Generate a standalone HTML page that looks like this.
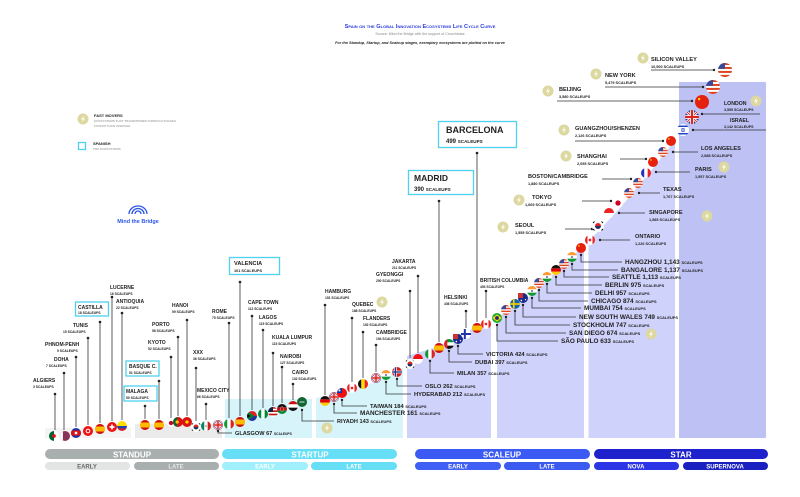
<!DOCTYPE html>
<html><head><meta charset="utf-8"><style>
html,body{margin:0;padding:0;background:#fff}
svg{display:block}
text{font-family:"Liberation Sans",sans-serif;font-weight:bold;fill:#222}
.n{font-size:5px}.s{font-size:3.3px}
.N{font-size:6.4px}.S{font-size:3.9px}
.l{stroke:#333;stroke-width:0.8;fill:none}
.bar{font-size:8px;fill:#fff;text-anchor:middle}
.sb{font-size:6px;text-anchor:middle;fill:#fff}
</style></head><body>
<svg width="800" height="497" viewBox="0 0 800 497" xmlns="http://www.w3.org/2000/svg">
<defs>
<clipPath id="c"><circle cx="0" cy="0" r="6"/></clipPath>
<symbol id="us" viewBox="-6 -6 12 12"><g clip-path="url(#c)"><rect x="-6" y="-6" width="12" height="12" fill="#fff"/><rect x="-6" y="-6" width="12" height="1.7" fill="#d42"/><rect x="-6" y="-2.6" width="12" height="1.7" fill="#d42"/><rect x="-6" y="0.8" width="12" height="1.7" fill="#d42"/><rect x="-6" y="4.2" width="12" height="1.8" fill="#d42"/><rect x="-6" y="-6" width="6" height="5" fill="#3a4a9a"/></g></symbol>
<symbol id="cn" viewBox="-6 -6 12 12"><circle r="6" fill="#e5200f"/><circle cx="-2.5" cy="-2.5" r="1" fill="#fd0"/></symbol>
<symbol id="es" viewBox="-6 -6 12 12"><g clip-path="url(#c)"><rect x="-6" y="-6" width="12" height="12" fill="#d72"/><rect x="-6" y="-6" width="12" height="3" fill="#c11"/><rect x="-6" y="3" width="12" height="3" fill="#c11"/><rect x="-6" y="-3" width="12" height="6" fill="#fb0"/></g></symbol>
<symbol id="uk" viewBox="-6 -6 12 12"><g clip-path="url(#c)"><rect x="-6" y="-6" width="12" height="12" fill="#2a3d8f"/><path d="M-6-6L6 6M6-6L-6 6" stroke="#fff" stroke-width="2.4"/><path d="M-6-6L6 6M6-6L-6 6" stroke="#d22" stroke-width="0.8"/><rect x="-6" y="-1.6" width="12" height="3.2" fill="#fff"/><rect x="-1.6" y="-6" width="3.2" height="12" fill="#fff"/><rect x="-6" y="-0.9" width="12" height="1.8" fill="#d22"/><rect x="-0.9" y="-6" width="1.8" height="12" fill="#d22"/></g></symbol>
<symbol id="in" viewBox="-6 -6 12 12"><g clip-path="url(#c)"><rect x="-6" y="-6" width="12" height="4" fill="#f93"/><rect x="-6" y="-2" width="12" height="4" fill="#fff"/><rect x="-6" y="2" width="12" height="4" fill="#193"/><circle r="1" fill="#228"/></g></symbol>
<symbol id="de" viewBox="-6 -6 12 12"><g clip-path="url(#c)"><rect x="-6" y="-6" width="12" height="4" fill="#111"/><rect x="-6" y="-2" width="12" height="4" fill="#d00"/><rect x="-6" y="2" width="12" height="4" fill="#fc0"/></g></symbol>
<symbol id="ca" viewBox="-6 -6 12 12"><g clip-path="url(#c)"><rect x="-6" y="-6" width="12" height="12" fill="#fff"/><rect x="-6" y="-6" width="3" height="12" fill="#e22"/><rect x="3" y="-6" width="3" height="12" fill="#e22"/><circle r="1.6" fill="#e22"/></g></symbol>
<symbol id="fr" viewBox="-6 -6 12 12"><g clip-path="url(#c)"><rect x="-6" y="-6" width="4" height="12" fill="#23c"/><rect x="-2" y="-6" width="4" height="12" fill="#fff"/><rect x="2" y="-6" width="4" height="12" fill="#e22"/></g></symbol>
<symbol id="it" viewBox="-6 -6 12 12"><g clip-path="url(#c)"><rect x="-6" y="-6" width="4" height="12" fill="#193"/><rect x="-2" y="-6" width="4" height="12" fill="#fff"/><rect x="2" y="-6" width="4" height="12" fill="#d22"/></g></symbol>
<symbol id="mx" viewBox="-6 -6 12 12"><g clip-path="url(#c)"><rect x="-6" y="-6" width="4" height="12" fill="#086"/><rect x="-2" y="-6" width="4" height="12" fill="#fff"/><rect x="2" y="-6" width="4" height="12" fill="#c22"/><circle r="0.9" fill="#864"/></g></symbol>
<symbol id="kr" viewBox="-6 -6 12 12"><circle r="6" fill="#fff"/><path d="M-3 0a3 3 0 0 1 6 0z" fill="#d22"/><path d="M-3 0a3 3 0 0 0 6 0z" fill="#236"/><path d="M-5-3l1.5-1.5M3.5-4.5L5-3M-5 3l1.5 1.5M5 3L3.5 4.5" stroke="#111" stroke-width="1"/></symbol>
<symbol id="jp" viewBox="-6 -6 12 12"><circle r="6" fill="#fff"/><circle r="3.2" fill="#c02"/></symbol>
<symbol id="sg" viewBox="-6 -6 12 12"><g clip-path="url(#c)"><rect x="-6" y="-6" width="12" height="6" fill="#e22"/><rect x="-6" y="0" width="12" height="6" fill="#fff"/></g></symbol>
<symbol id="id" viewBox="-6 -6 12 12"><g clip-path="url(#c)"><rect x="-6" y="-6" width="12" height="6" fill="#e11"/><rect x="-6" y="0" width="12" height="6" fill="#fff"/></g></symbol>
<symbol id="se" viewBox="-6 -6 12 12"><g clip-path="url(#c)"><rect x="-6" y="-6" width="12" height="12" fill="#16a"/><rect x="-6" y="-1" width="12" height="2" fill="#fc0"/><rect x="-2.5" y="-6" width="2" height="12" fill="#fc0"/></g></symbol>
<symbol id="au" viewBox="-6 -6 12 12"><circle r="6" fill="#1a2a8a"/><rect x="-6" y="-6" width="6" height="6" fill="#c33"/><circle cx="3" cy="2" r="0.8" fill="#fff"/><circle cx="-2" cy="3" r="1" fill="#fff"/></symbol>
<symbol id="br" viewBox="-6 -6 12 12"><circle r="6" fill="#2a3"/><path d="M-5.5 0L0-4.2 5.5 0 0 4.2z" fill="#fd0"/><circle r="2.3" fill="#228"/></symbol>
<symbol id="il" viewBox="-6 -6 12 12"><g clip-path="url(#c)"><rect x="-6" y="-6" width="12" height="12" fill="#fff"/><rect x="-6" y="-4.5" width="12" height="1.5" fill="#24c"/><rect x="-6" y="3" width="12" height="1.5" fill="#24c"/><path d="M0-2L1.8 1.2H-1.8zM0 2L1.8-1.2H-1.8z" fill="none" stroke="#24c" stroke-width="0.5"/></g></symbol>
<symbol id="ae" viewBox="-6 -6 12 12"><g clip-path="url(#c)"><rect x="-6" y="-6" width="12" height="4" fill="#093"/><rect x="-6" y="-2" width="12" height="4" fill="#fff"/><rect x="-6" y="2" width="12" height="4" fill="#111"/><rect x="-6" y="-6" width="4" height="12" fill="#d22"/></g></symbol>
<symbol id="fi" viewBox="-6 -6 12 12"><circle r="6" fill="#fff"/><rect x="-6" y="-1.2" width="12" height="2.4" fill="#23a"/><rect x="-2.6" y="-6" width="2.4" height="12" fill="#23a"/></symbol>
<symbol id="no" viewBox="-6 -6 12 12"><g clip-path="url(#c)"><rect x="-6" y="-6" width="12" height="12" fill="#c22"/><rect x="-6" y="-1.6" width="12" height="3.2" fill="#fff"/><rect x="-3.6" y="-6" width="3.2" height="12" fill="#fff"/><rect x="-6" y="-0.8" width="12" height="1.6" fill="#238"/><rect x="-2.8" y="-6" width="1.6" height="12" fill="#238"/></g></symbol>
<symbol id="ch" viewBox="-6 -6 12 12"><circle r="6" fill="#e11"/><rect x="-3" y="-1" width="6" height="2" fill="#fff"/><rect x="-1" y="-3" width="2" height="6" fill="#fff"/></symbol>
<symbol id="co" viewBox="-6 -6 12 12"><g clip-path="url(#c)"><rect x="-6" y="-6" width="12" height="6" fill="#fd0"/><rect x="-6" y="0" width="12" height="3" fill="#24a"/><rect x="-6" y="3" width="12" height="3" fill="#d22"/></g></symbol>
<symbol id="eg" viewBox="-6 -6 12 12"><g clip-path="url(#c)"><rect x="-6" y="-6" width="12" height="4" fill="#c11"/><rect x="-6" y="-2" width="12" height="4" fill="#fff"/><rect x="-6" y="2" width="12" height="4" fill="#111"/></g></symbol>
<symbol id="ng" viewBox="-6 -6 12 12"><g clip-path="url(#c)"><rect x="-6" y="-6" width="4" height="12" fill="#083"/><rect x="-2" y="-6" width="4" height="12" fill="#fff"/><rect x="2" y="-6" width="4" height="12" fill="#083"/></g></symbol>
<symbol id="ke" viewBox="-6 -6 12 12"><g clip-path="url(#c)"><rect x="-6" y="-6" width="12" height="4" fill="#111"/><rect x="-6" y="-2" width="12" height="4" fill="#b11"/><rect x="-6" y="2" width="12" height="4" fill="#083"/><ellipse rx="1.5" ry="3" fill="#b11" stroke="#fff" stroke-width="0.4"/></g></symbol>
<symbol id="za" viewBox="-6 -6 12 12"><g clip-path="url(#c)"><rect x="-6" y="-6" width="12" height="6" fill="#d22"/><rect x="-6" y="0" width="12" height="6" fill="#239"/><path d="M-6-4L0 0-6 4" fill="none" stroke="#083" stroke-width="3"/><path d="M-6-3L-1.5 0-6 3z" fill="#111"/></g></symbol>
<symbol id="my" viewBox="-6 -6 12 12"><g clip-path="url(#c)"><rect x="-6" y="-6" width="12" height="12" fill="#fff"/><rect x="-6" y="-6" width="12" height="2" fill="#c11"/><rect x="-6" y="-2" width="12" height="2" fill="#c11"/><rect x="-6" y="2" width="12" height="2" fill="#c11"/><rect x="-6" y="-6" width="6" height="6" fill="#124"/></g></symbol>
<symbol id="pt" viewBox="-6 -6 12 12"><g clip-path="url(#c)"><rect x="-6" y="-6" width="12" height="12" fill="#d11"/><rect x="-6" y="-6" width="5" height="12" fill="#063"/><circle cx="-1" r="2" fill="#fc0"/></g></symbol>
<symbol id="vn" viewBox="-6 -6 12 12"><circle r="6" fill="#d11"/><circle r="2" fill="#fd0"/></symbol>
<symbol id="tn" viewBox="-6 -6 12 12"><circle r="6" fill="#e11"/><circle r="2.8" fill="#fff"/><circle r="1.6" fill="#e11"/></symbol>
<symbol id="kh" viewBox="-6 -6 12 12"><g clip-path="url(#c)"><rect x="-6" y="-6" width="12" height="12" fill="#23a"/><rect x="-6" y="-3" width="12" height="6" fill="#d11"/><rect x="-1.5" y="-1.5" width="3" height="3" fill="#fff"/></g></symbol>
<symbol id="qa" viewBox="-6 -6 12 12"><g clip-path="url(#c)"><rect x="-6" y="-6" width="12" height="12" fill="#835"/><rect x="-6" y="-6" width="3.5" height="12" fill="#fff"/></g></symbol>
<symbol id="dz" viewBox="-6 -6 12 12"><g clip-path="url(#c)"><rect x="-6" y="-6" width="6" height="12" fill="#063"/><rect x="0" y="-6" width="6" height="12" fill="#fff"/><circle r="2.2" fill="#d11"/></g></symbol>
<symbol id="be" viewBox="-6 -6 12 12"><g clip-path="url(#c)"><rect x="-6" y="-6" width="4" height="12" fill="#111"/><rect x="-2" y="-6" width="4" height="12" fill="#fd0"/><rect x="2" y="-6" width="4" height="12" fill="#e22"/></g></symbol>
<symbol id="sa" viewBox="-6 -6 12 12"><circle r="6" fill="#163"/><rect x="-3" y="-0.5" width="6" height="1" fill="#fff"/></symbol>
<symbol id="tw" viewBox="-6 -6 12 12"><g clip-path="url(#c)"><rect x="-6" y="-6" width="12" height="12" fill="#e11"/><rect x="-6" y="-6" width="6" height="6" fill="#13a"/><circle cx="-3" cy="-3" r="1.2" fill="#fff"/></g></symbol>
<symbol id="fm" viewBox="-6 -6 12 12"><circle r="5.5" fill="#dcd8a0"/><path d="M1-3.5L-2 0.5H0L-1 3.5 2-0.5H0z" fill="#fff"/></symbol>
</defs>

<!-- background panels -->
<rect x="45" y="428" width="86" height="10" fill="#f4f4f4"/>
<rect x="135" y="424" width="87" height="14" fill="#ebebeb"/>
<rect x="225" y="399" width="87" height="39" fill="#d7f4fb"/>
<polygon points="316,438 316,398 345,392 375,382 403,368 403,438" fill="#d7f4fb"/>
<polygon points="407,438 407,356 440,346 470,330 497,318 530,296 560,268 590,240 620,208 650,172 675,140 675,438" fill="#cfd2fa"/>
<rect x="491" y="300" width="6" height="140" fill="#fff"/>
<rect x="584" y="220" width="4.5" height="220" fill="#fff"/>
<rect x="679" y="82" width="87" height="356" fill="#bdc1f3"/>

<!-- header -->
<text x="420" y="28" text-anchor="middle" style="font-size:5.6px;fill:#2b3be0;font-variant:small-caps">Spain on the Global Innovation Ecosystems Life Cycle Curve</text>
<text x="420" y="35" text-anchor="middle" style="font-size:3.6px;fill:#888;font-weight:normal">Source: Mind the Bridge with the support of Crunchbase</text>
<text x="420" y="44" text-anchor="middle" style="font-size:3.8px;font-style:italic">For the Standup, Startup, and Scaleup stages, exemplary ecosystems are plotted on the curve</text>

<!-- legend -->
<use href="#fm" x="77" y="113" width="12" height="12"/>
<text x="94" y="117" style="font-size:4px">FAST MOVERS</text>
<text x="94" y="122" style="font-size:3px;fill:#aaa">ECOSYSTEMS THAT TRANSITIONED THROUGH PHASES</text>
<text x="94" y="127" style="font-size:3px;fill:#aaa">FASTER THAN AVERAGE</text>
<rect x="78.5" y="142.5" width="7" height="7" fill="none" stroke="#4fd1ef" stroke-width="1.3"/>
<text x="93" y="145" style="font-size:4px">SPANISH</text>
<text x="93" y="150" style="font-size:3px;fill:#aaa">TOP ECOSYSTEMS</text>
<path d="M129 214a9 8 0 0 1 18 0M132 214a6 5.5 0 0 1 12 0M135 214a3 3 0 0 1 6 0" fill="none" stroke="#2b55e8" stroke-width="1.3"/>
<text x="138" y="223" text-anchor="middle" style="font-size:5.5px;fill:#2b55e8">Mind the Bridge</text>

<!-- vertical label items -->
<g class="l">
<line x1="55" y1="394" x2="55" y2="430"/><line x1="64" y1="373" x2="64" y2="430"/><line x1="76" y1="357" x2="76" y2="427"/><line x1="88" y1="338" x2="88" y2="425"/><line x1="100" y1="322" x2="100" y2="423"/><line x1="112" y1="297" x2="112" y2="421"/><line x1="122" y1="313" x2="122" y2="420"/>
<line x1="145" y1="406" x2="145" y2="419"/><line x1="159" y1="381" x2="159" y2="419"/><line x1="171" y1="357" x2="171" y2="418"/><line x1="178" y1="337" x2="178" y2="416"/><line x1="187" y1="320" x2="187" y2="416"/><line x1="196" y1="368" x2="196" y2="421"/><line x1="206" y1="404" x2="206" y2="420"/>
<line x1="229" y1="323" x2="229" y2="418"/><line x1="240" y1="282" x2="240" y2="416"/><line x1="252" y1="316" x2="252" y2="410"/><line x1="263" y1="330" x2="263" y2="408"/><line x1="273" y1="353" x2="273" y2="406"/><line x1="282" y1="367" x2="282" y2="403"/><line x1="293" y1="384" x2="293" y2="400"/>
<line x1="325" y1="305" x2="325" y2="395"/><line x1="352" y1="318" x2="352" y2="382"/><line x1="363" y1="332" x2="363" y2="378"/><line x1="376" y1="345" x2="376" y2="372"/><line x1="410" y1="291" x2="410" y2="358"/><line x1="418" y1="276" x2="418" y2="353"/><line x1="439" y1="201" x2="439" y2="342"/><line x1="466" y1="311" x2="466" y2="328"/><line x1="477" y1="153" x2="477" y2="322"/><line x1="486" y1="291" x2="486" y2="318"/>
<polyline points="218,431 218,433 232,433"/><polyline points="302,410 302,421 334,421"/><polyline points="334,404 334,413 357,413"/><polyline points="342,400 342,406 367,406"/><polyline points="386,382 386,394 411,394"/><polyline points="397,379 397,386 422,386"/><polyline points="430,361 430,373 454,373"/><polyline points="449,351 449,362 472,362"/><polyline points="458,346 458,354 483,354"/>
<polyline points="497,325 497,341 558,341"/><polyline points="506,317 506,333 566,333"/><polyline points="515,311 515,325 570,325"/><polyline points="523,305 523,317 576,317"/><polyline points="532,298 532,308 581,308"/><polyline points="539,290 539,301 588,301"/><polyline points="547,284 547,293 592,293"/><polyline points="556,277 556,285 602,285"/><polyline points="564,271 564,277 609,277"/><polyline points="572,264 572,270 618,270"/><polyline points="581,255 581,262 622,262"/>
<line x1="600" y1="240" x2="630" y2="240"/><line x1="565" y1="229" x2="592" y2="229"/><line x1="619" y1="213" x2="645" y2="213"/><line x1="582" y1="201" x2="611" y2="201"/><line x1="639" y1="193" x2="660" y2="193"/><line x1="602" y1="179" x2="631" y2="179"/><line x1="656" y1="172" x2="690" y2="172"/><line x1="620" y1="159" x2="646" y2="159"/><line x1="673" y1="152" x2="698" y2="152"/><line x1="575" y1="141" x2="663" y2="141"/><line x1="693" y1="130" x2="766" y2="130"/><line x1="702" y1="114" x2="760" y2="114"/><line x1="557" y1="101" x2="692" y2="101"/><line x1="605" y1="87" x2="703" y2="87"/><line x1="651" y1="70" x2="714" y2="70"/>
</g>
<g fill="#222">
<circle cx="55" cy="394" r="1.3"/><circle cx="64" cy="373" r="1.3"/><circle cx="76" cy="357" r="1.3"/><circle cx="88" cy="338" r="1.3"/><circle cx="100" cy="322" r="1.3"/><circle cx="112" cy="297" r="1.3"/><circle cx="122" cy="313" r="1.3"/>
<circle cx="145" cy="406" r="1.3"/><circle cx="159" cy="381" r="1.3"/><circle cx="171" cy="357" r="1.3"/><circle cx="178" cy="337" r="1.3"/><circle cx="187" cy="320" r="1.3"/><circle cx="196" cy="368" r="1.3"/><circle cx="206" cy="404" r="1.3"/>
<circle cx="229" cy="323" r="1.3"/><circle cx="240" cy="282" r="1.3"/><circle cx="252" cy="316" r="1.3"/><circle cx="263" cy="330" r="1.3"/><circle cx="273" cy="353" r="1.3"/><circle cx="282" cy="367" r="1.3"/><circle cx="293" cy="384" r="1.3"/>
<circle cx="325" cy="305" r="1.3"/><circle cx="352" cy="318" r="1.3"/><circle cx="363" cy="332" r="1.3"/><circle cx="376" cy="345" r="1.3"/><circle cx="410" cy="291" r="1.3"/><circle cx="418" cy="276" r="1.3"/><circle cx="439" cy="201" r="1.3"/><circle cx="466" cy="311" r="1.3"/><circle cx="477" cy="153" r="1.3"/><circle cx="486" cy="291" r="1.3"/>
<circle cx="218" cy="431" r="1.2"/><circle cx="302" cy="410" r="1.2"/><circle cx="334" cy="404" r="1.2"/><circle cx="342" cy="400" r="1.2"/><circle cx="386" cy="382" r="1.2"/><circle cx="397" cy="379" r="1.2"/><circle cx="430" cy="361" r="1.2"/><circle cx="449" cy="351" r="1.2"/><circle cx="458" cy="346" r="1.2"/>
<circle cx="497" cy="325" r="1.2"/><circle cx="506" cy="317" r="1.2"/><circle cx="515" cy="311" r="1.2"/><circle cx="523" cy="305" r="1.2"/><circle cx="532" cy="298" r="1.2"/><circle cx="539" cy="290" r="1.2"/><circle cx="547" cy="284" r="1.2"/><circle cx="556" cy="277" r="1.2"/><circle cx="564" cy="271" r="1.2"/><circle cx="572" cy="264" r="1.2"/><circle cx="581" cy="255" r="1.2"/>
<circle cx="600" cy="240" r="1.2"/><circle cx="592" cy="229" r="1.2"/><circle cx="619" cy="213" r="1.2"/><circle cx="611" cy="201" r="1.2"/><circle cx="639" cy="193" r="1.2"/><circle cx="631" cy="179" r="1.2"/><circle cx="656" cy="172" r="1.2"/><circle cx="646" cy="159" r="1.2"/><circle cx="673" cy="152" r="1.2"/><circle cx="663" cy="141" r="1.2"/><circle cx="693" cy="130" r="1.2"/><circle cx="702" cy="114" r="1.2"/><circle cx="692" cy="101" r="1.2"/><circle cx="703" cy="87" r="1.2"/><circle cx="714" cy="70" r="1.2"/>
</g>

<!-- small labels -->
<text x="33" y="382" class="n">ALGIERS</text><text x="33" y="388" class="s">3 SCALEUPS</text>
<text x="54" y="361" class="n">DOHA</text><text x="46" y="367" class="s">7 SCALEUPS</text>
<text x="45" y="346" class="n">PHNOM-PENH</text><text x="57" y="352" class="s">9 SCALEUPS</text>
<text x="73" y="327" class="n">TUNIS</text><text x="63" y="333" class="s">15 SCALEUPS</text>
<rect x="75.5" y="302" width="33" height="14" fill="#fff" stroke="#4fd1ef" stroke-width="1.3"/>
<text x="78" y="309" class="n">CASTILLA</text><text x="78" y="314" class="s">18 SCALEUPS</text>
<text x="110" y="289" class="n">LUCERNE</text><text x="110" y="295" class="s">16 SCALEUPS</text>
<text x="116" y="303" class="n">ANTIOQUIA</text><text x="116" y="309" class="s">22 SCALEUPS</text>
<rect x="124" y="386" width="33" height="15" fill="#fff" stroke="#4fd1ef" stroke-width="1.3"/>
<text x="126" y="393" class="n">MALAGA</text><text x="126" y="399" class="s">50 SCALEUPS</text>
<rect x="126" y="361" width="33" height="15" fill="#fff" stroke="#4fd1ef" stroke-width="1.3"/>
<text x="129" y="368" class="n">BASQUE C.</text><text x="129" y="374" class="s">51 SCALEUPS</text>
<text x="148" y="344" class="n">KYOTO</text><text x="148" y="350" class="s">52 SCALEUPS</text>
<text x="152" y="326" class="n">PORTO</text><text x="152" y="332" class="s">58 SCALEUPS</text>
<text x="172" y="307" class="n">HANOI</text><text x="172" y="313" class="s">59 SCALEUPS</text>
<text x="193" y="354" class="n">XXX</text><text x="193" y="360" class="s">36 SCALEUPS</text>
<text x="197" y="392" class="n">MEXICO CITY</text><text x="197" y="398" class="s">66 SCALEUPS</text>
<text x="235" y="435" class="n" style="font-size:5.6px">GLASGOW 67 <tspan class="s">SCALEUPS</tspan></text>
<text x="212" y="313" class="n">ROME</text><text x="212" y="319" class="s">75 SCALEUPS</text>
<rect x="229.5" y="257.5" width="50" height="17" fill="#fff" stroke="#4fd1ef" stroke-width="1.3"/>
<text x="234" y="265" class="n" style="font-size:5.6px">VALENCIA</text><text x="234" y="272" class="s" style="font-size:3.8px">101 SCALEUPS</text>
<text x="248" y="304" class="n">CAPE TOWN</text><text x="248" y="310" class="s">112 SCALEUPS</text>
<text x="259" y="319" class="n">LAGOS</text><text x="259" y="325" class="s">115 SCALEUPS</text>
<text x="272" y="339" class="n">KUALA LUMPUR</text><text x="272" y="345" class="s">115 SCALEUPS</text>
<text x="280" y="358" class="n">NAIROBI</text><text x="280" y="364" class="s">127 SCALEUPS</text>
<text x="292" y="374" class="n">CAIRO</text><text x="292" y="380" class="s">132 SCALEUPS</text>
<text x="337" y="423" class="N" style="font-size:5.6px">RIYADH 143 <tspan class="S">SCALEUPS</tspan></text>
<text x="325" y="293" class="n">HAMBURG</text><text x="325" y="299" class="s">151 SCALEUPS</text>
<text x="360" y="415" class="N">MANCHESTER 161 <tspan class="S">SCALEUPS</tspan></text>
<text x="370" y="408" class="N" style="font-size:5.8px">TAIWAN 184 <tspan class="S">SCALEUPS</tspan></text>
<text x="352" y="306" class="n">QUEBEC</text><text x="352" y="312" class="s">188 SCALEUPS</text>
<text x="363" y="320" class="n">FLANDERS</text><text x="363" y="326" class="s">192 SCALEUPS</text>
<text x="376" y="334" class="n">CAMBRIDGE</text><text x="376" y="340" class="s">194 SCALEUPS</text>
<text x="414" y="396" class="N" style="font-size:5.8px">HYDERABAD 212 <tspan class="S">SCALEUPS</tspan></text>
<text x="425" y="388" class="N" style="font-size:5.8px">OSLO 262 <tspan class="S">SCALEUPS</tspan></text>
<text x="376" y="276" class="n">GYEONGGI</text><text x="376" y="282" class="s">200 SCALEUPS</text>
<text x="392" y="263" class="n">JAKARTA</text><text x="392" y="269" class="s">211 SCALEUPS</text>
<text x="457" y="375" class="N" style="font-size:5.8px">MILAN 357 <tspan class="S">SCALEUPS</tspan></text>
<rect x="408.5" y="170.5" width="65" height="24" fill="#fff" stroke="#4fd1ef" stroke-width="1.3"/>
<text x="414" y="181" style="font-size:8.5px">MADRID</text><text x="414" y="191" style="font-size:6px">390 <tspan style="font-size:4.6px">SCALEUPS</tspan></text>
<text x="475" y="364" class="N" style="font-size:5.8px">DUBAI 397 <tspan class="S">SCALEUPS</tspan></text>
<text x="486" y="356" class="N" style="font-size:5.8px">VICTORIA 424 <tspan class="S">SCALEUPS</tspan></text>
<text x="444" y="299" class="n">HELSINKI</text><text x="444" y="305" class="s">436 SCALEUPS</text>
<rect x="438.5" y="121.5" width="78" height="26" fill="#fff" stroke="#4fd1ef" stroke-width="1.3"/>
<text x="446" y="133" style="font-size:9px">BARCELONA</text><text x="446" y="143" style="font-size:6px">499 <tspan style="font-size:4.6px">SCALEUPS</tspan></text>
<text x="480" y="282" class="n">BRITISH COLUMBIA</text><text x="480" y="288" class="s">493 SCALEUPS</text>

<text x="561" y="343" class="N">SÃO PAULO 633 <tspan class="S">SCALEUPS</tspan></text>
<text x="569" y="335" class="N">SAN DIEGO 674 <tspan class="S">SCALEUPS</tspan></text>
<text x="573" y="327" class="N">STOCKHOLM 747 <tspan class="S">SCALEUPS</tspan></text>
<text x="579" y="319" class="N">NEW SOUTH WALES 749 <tspan class="S">SCALEUPS</tspan></text>
<text x="584" y="310" class="N">MUMBAI 754 <tspan class="S">SCALEUPS</tspan></text>
<text x="591" y="303" class="N">CHICAGO 874 <tspan class="S">SCALEUPS</tspan></text>
<text x="595" y="295" class="N">DELHI 957 <tspan class="S">SCALEUPS</tspan></text>
<text x="605" y="287" class="N">BERLIN 975 <tspan class="S">SCALEUPS</tspan></text>
<text x="612" y="279" class="N">SEATTLE 1,113 <tspan class="S">SCALEUPS</tspan></text>
<text x="621" y="272" class="N">BANGALORE 1,137 <tspan class="S">SCALEUPS</tspan></text>
<text x="625" y="264" class="N">HANGZHOU 1,143 <tspan class="S">SCALEUPS</tspan></text>

<text x="635" y="238" class="N" style="font-size:5.6px">ONTARIO</text><text x="635" y="245" class="s" style="font-size:3.8px">1,226 SCALEUPS</text>
<text x="515" y="227" class="N" style="font-size:5.6px">SEOUL</text><text x="515" y="234" class="s" style="font-size:3.8px">1,555 SCALEUPS</text>
<text x="649" y="214" class="N" style="font-size:5.6px">SINGAPORE</text><text x="649" y="221" class="s" style="font-size:3.8px">1,585 SCALEUPS</text>
<text x="532" y="199" class="N" style="font-size:5.6px">TOKYO</text><text x="525" y="206" class="s" style="font-size:3.8px">1,669 SCALEUPS</text>
<text x="663" y="191" class="N" style="font-size:5.6px">TEXAS</text><text x="663" y="198" class="s" style="font-size:3.8px">1,767 SCALEUPS</text>
<text x="528" y="178" class="N" style="font-size:5.6px">BOSTON/CAMBRIDGE</text><text x="528" y="185" class="s" style="font-size:3.8px">1,880 SCALEUPS</text>
<text x="695" y="171" class="N" style="font-size:5.6px">PARIS</text><text x="695" y="178" class="s" style="font-size:3.8px">1,957 SCALEUPS</text>
<text x="577" y="158" class="N" style="font-size:5.6px">SHANGHAI</text><text x="577" y="165" class="s" style="font-size:3.8px">2,055 SCALEUPS</text>
<text x="701" y="150" class="N" style="font-size:5.6px">LOS ANGELES</text><text x="701" y="157" class="s" style="font-size:3.8px">2,088 SCALEUPS</text>
<text x="575" y="130" class="N" style="font-size:5.6px">GUANGZHOU/SHENZEN</text><text x="575" y="137" class="s" style="font-size:3.8px">2,126 SCALEUPS</text>
<text x="730" y="122" class="N" style="font-size:5.2px">ISRAEL</text><text x="724" y="128" class="s" style="font-size:3.6px">3,142 SCALEUPS</text>
<text x="724" y="105" class="N" style="font-size:5.2px">LONDON</text><text x="724" y="111" class="s" style="font-size:3.6px">3,595 SCALEUPS</text>
<text x="559" y="91" class="N" style="font-size:5.6px">BEIJING</text><text x="559" y="98" class="s" style="font-size:3.8px">3,580 SCALEUPS</text>
<text x="605" y="77" class="N" style="font-size:5.6px">NEW YORK</text><text x="605" y="84" class="s" style="font-size:3.8px">5,479 SCALEUPS</text>
<text x="651" y="61" class="N" style="font-size:5.6px">SILICON VALLEY</text><text x="651" y="68" class="s" style="font-size:3.8px">10,500 SCALEUPS</text>

<!-- fast mover icons -->
<use href="#fm" x="376" y="296" width="12" height="12"/><use href="#fm" x="321" y="422" width="12" height="12"/><use href="#fm" x="645" y="328" width="12" height="12"/><use href="#fm" x="701" y="210" width="12" height="12"/><use href="#fm" x="718" y="161" width="12" height="12"/><use href="#fm" x="750" y="95" width="12" height="12"/><use href="#fm" x="637" y="52" width="12" height="12"/><use href="#fm" x="590" y="68" width="12" height="12"/><use href="#fm" x="542" y="85" width="12" height="12"/><use href="#fm" x="558" y="124" width="12" height="12"/><use href="#fm" x="560" y="150" width="12" height="12"/><use href="#fm" x="513" y="194" width="12" height="12"/><use href="#fm" x="497" y="221" width="12" height="12"/>

<!-- flags -->
<g>
<use href="#dz" x="49" y="431" width="10" height="10"/><use href="#qa" x="60" y="431" width="10" height="10"/><use href="#kh" x="71" y="428" width="10" height="10"/><use href="#tn" x="83" y="426" width="10" height="10"/><use href="#es" x="95" y="424" width="10" height="10"/><use href="#ch" x="107" y="422" width="10" height="10"/><use href="#co" x="117" y="421" width="10" height="10"/>
<use href="#es" x="140" y="420" width="10" height="10"/><use href="#es" x="154" y="420" width="10" height="10"/><use href="#jp" x="167" y="419" width="8" height="8"/><use href="#pt" x="173" y="417" width="10" height="10"/><use href="#vn" x="182" y="417" width="10" height="10"/><use href="#kr" x="191" y="422" width="10" height="10"/><use href="#mx" x="201" y="421" width="10" height="10"/><use href="#uk" x="213" y="420" width="10" height="10"/>
<use href="#it" x="224" y="419" width="10" height="10"/><use href="#es" x="235" y="417" width="10" height="10"/><use href="#za" x="247" y="411" width="10" height="10"/><use href="#ng" x="258" y="409" width="10" height="10"/><use href="#my" x="268" y="407" width="10" height="10"/><use href="#ke" x="277" y="404" width="10" height="10"/><use href="#eg" x="288" y="401" width="10" height="10"/><use href="#sa" x="297" y="397" width="10" height="10"/>
<use href="#de" x="320" y="396" width="10" height="10"/><use href="#uk" x="329" y="392" width="10" height="10"/><use href="#tw" x="337" y="388" width="10" height="10"/><use href="#ca" x="347" y="383" width="10" height="10"/><use href="#be" x="358" y="379" width="10" height="10"/><use href="#uk" x="371" y="373" width="10" height="10"/><use href="#in" x="381" y="370" width="10" height="10"/><use href="#no" x="392" y="367" width="10" height="10"/>
<use href="#kr" x="405" y="359" width="10" height="10"/><use href="#id" x="413" y="354" width="10" height="10"/><use href="#it" x="425" y="349" width="10" height="10"/><use href="#es" x="434" y="343" width="10" height="10"/><use href="#ae" x="444" y="339" width="10" height="10"/><use href="#au" x="453" y="334" width="10" height="10"/><use href="#fi" x="461" y="329" width="10" height="10"/><use href="#es" x="472" y="323" width="10" height="10"/><use href="#ca" x="481" y="319" width="10" height="10"/>
<use href="#br" x="492" y="313" width="10" height="10"/><use href="#us" x="501" y="305" width="10" height="10"/><use href="#se" x="510" y="299" width="10" height="10"/><use href="#au" x="518" y="293" width="10" height="10"/><use href="#in" x="527" y="286" width="10" height="10"/><use href="#us" x="534" y="278" width="10" height="10"/><use href="#in" x="542" y="272" width="10" height="10"/><use href="#de" x="551" y="265" width="10" height="10"/><use href="#us" x="559" y="259" width="10" height="10"/><use href="#in" x="567" y="252" width="10" height="10"/><use href="#cn" x="576" y="243" width="10" height="10"/>
<use href="#ca" x="585" y="235" width="10" height="10"/><use href="#kr" x="592" y="220" width="12" height="12"/><use href="#sg" x="604" y="208" width="10" height="10"/><use href="#jp" x="613" y="198" width="10" height="10"/><use href="#us" x="624" y="188" width="10" height="10"/><use href="#us" x="633" y="178" width="10" height="10"/><use href="#fr" x="641" y="168" width="10" height="10"/><use href="#cn" x="648" y="157" width="10" height="10"/><use href="#us" x="658" y="147" width="10" height="10"/><use href="#cn" x="666" y="136" width="10" height="10"/>
<use href="#il" x="677" y="124" width="12" height="12"/><use href="#uk" x="685" y="110" width="14" height="14"/><use href="#cn" x="695" y="95" width="14" height="14"/><use href="#us" x="706" y="80" width="14" height="14"/><use href="#us" x="718" y="63" width="14" height="14"/>
</g>

<!-- stage bars -->
<rect x="45" y="449" width="174" height="10" rx="5" fill="#a9aeae"/><text x="132" y="457.5" class="bar">STANDUP</text>
<rect x="45" y="462" width="85" height="8" rx="4" fill="#e3e5e5"/><text x="87" y="468.3" class="sb" style="fill:#666">EARLY</text>
<rect x="134" y="462" width="85" height="8" rx="4" fill="#a9aeae"/><text x="176" y="468.3" class="sb" style="fill:#e6e6e6">LATE</text>
<rect x="222" y="449" width="175" height="10" rx="5" fill="#66dff6"/><text x="310" y="457.5" class="bar">STARTUP</text>
<rect x="222" y="462" width="86" height="8" rx="4" fill="#9ff0fc"/><text x="265" y="468.3" class="sb">EARLY</text>
<rect x="311" y="462" width="86" height="8" rx="4" fill="#66dff6"/><text x="354" y="468.3" class="sb">LATE</text>
<rect x="415" y="449" width="175" height="10" rx="5" fill="#3a5af3"/><text x="502" y="457.5" class="bar">SCALEUP</text>
<rect x="415" y="462" width="86" height="8" rx="4" fill="#3f5ff5"/><text x="458" y="468.3" class="sb">EARLY</text>
<rect x="504" y="462" width="86" height="8" rx="4" fill="#3a5af0"/><text x="547" y="468.3" class="sb">LATE</text>
<rect x="594" y="449" width="174" height="10" rx="5" fill="#1d22cc"/><text x="681" y="457.5" class="bar">STAR</text>
<rect x="594" y="462" width="85" height="8" rx="4" fill="#2b35e6"/><text x="636" y="468.3" class="sb">NOVA</text>
<rect x="683" y="462" width="85" height="8" rx="4" fill="#1a1fc0"/><text x="725" y="468.3" class="sb">SUPERNOVA</text>
</svg>
</body></html>
